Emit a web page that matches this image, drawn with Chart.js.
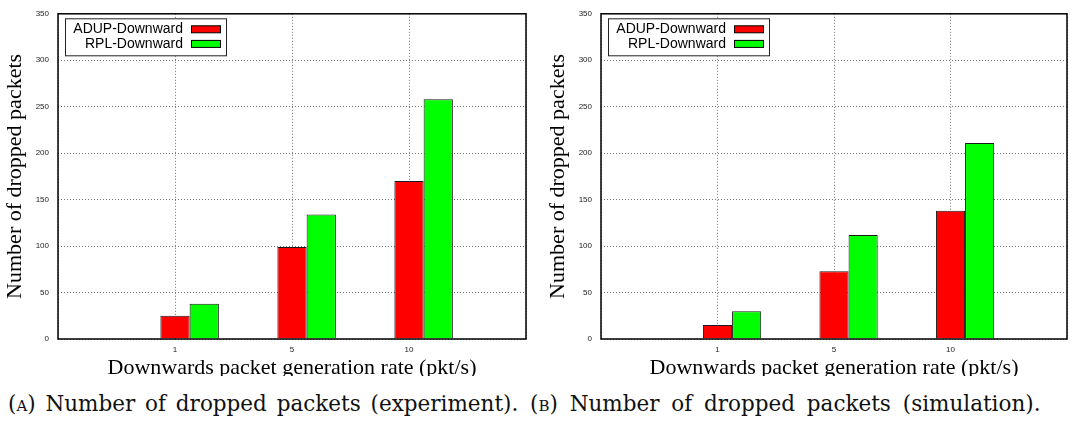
<!DOCTYPE html>
<html>
<head>
<meta charset="utf-8">
<script src="https://cdn.jsdelivr.net/npm/chart.js@4.4.1/dist/chart.umd.min.js"></script>
<style>
    html, body { margin: 0; padding: 0; background: #fff; }
    body { width: 1073px; height: 423px; position: relative; overflow: hidden; }
    .panel { position: absolute; top: 0; height: 376px; overflow: hidden; }
    .caption {
        position: absolute; top: 393px; white-space: nowrap;
        font-family: "DejaVu Serif", serif; font-size: 21.5px; line-height: 1; color: #111;
    }
    .sc { font-variant: small-caps; }
</style>
</head>
<body>
<div class="panel" style="left:0;width:543px"><canvas id="chartExp" width="543" height="385"></canvas></div>
<div class="panel" style="left:543px;width:530px"><canvas id="chartSim" width="530" height="385"></canvas></div>
<div class="caption" style="left:8px;word-spacing:3px">(<span class="sc">a</span>) Number of dropped packets (experiment).</div>
<div class="caption" style="left:530px;word-spacing:5px">(<span class="sc">b</span>) Number of dropped packets (simulation).</div>
<script>
// du lieu doc tu hinh
const rates = ['1', '5', '10'];
const adupExperiment = [25, 99, 170];
const rplExperiment = [38, 134, 258];
const adupSimulation = [15, 73, 138];
const rplSimulation = [30, 112, 211];
const yTicks = [0, 50, 100, 150, 200, 250, 300, 350];

const seriesNames = ['ADUP-Downward', 'RPL-Downward'];
const seriesColors = ['#ff0000', '#00ff00'];

// khung vien + chu thich kieu gnuplot
const gnuplotFrame = {
    id: 'gnuplotFrame',
    afterDatasetsDraw(chart) {
        const { ctx, chartArea: a } = chart;
        ctx.save();
        ctx.strokeStyle = '#000';
        ctx.lineWidth = 1.5;
        ctx.strokeRect(a.left, a.top, a.right - a.left, a.bottom - a.top);

        const bx = a.left + 7, by = a.top + 4.5;
        ctx.fillStyle = '#fff';
        ctx.fillRect(bx, by, 161, 37);
        ctx.lineWidth = 1;
        ctx.strokeStyle = '#222';
        ctx.strokeRect(bx + 0.5, by + 0.5, 161, 37);

        ctx.font = '14px "Liberation Sans", Arial, sans-serif';
        ctx.textAlign = 'right';
        ctx.textBaseline = 'middle';
        chart.data.datasets.forEach((ds, i) => {
            const cy = by + 11 + i * 14.6;
            ctx.fillStyle = '#000';
            ctx.fillText(ds.label, bx + 118, cy);
            ctx.fillStyle = ds.backgroundColor;
            ctx.fillRect(bx + 126, cy - 3.5, 30, 7);
            ctx.strokeStyle = '#000';
            ctx.strokeRect(bx + 126.5, cy - 3.5, 29, 7);
        });
        ctx.restore();
    }
};

const makeChart = (canvasId, adup, rpl, padRight) => {
    const toPoints = (arr) => arr.map((v, i) => ({ x: i + 1, y: v }));
    const config = {
        type: 'bar',
        data: {
            datasets: [adup, rpl].map((arr, i) => ({
                label: seriesNames[i],
                data: toPoints(arr),
                backgroundColor: seriesColors[i],
                borderColor: '#1a1a1a',
                borderWidth: 1,
                xAxisID: 'xb',
                yAxisID: 'y',
                categoryPercentage: 0.5,
                barPercentage: 1.0
            }))
        },
        options: {
            responsive: false,
            animation: false,
            devicePixelRatio: 1,
            layout: { padding: { left: 0, right: padRight, top: 10, bottom: 0 } },
            plugins: { legend: { display: false }, tooltip: { enabled: false } },
            scales: {
                x: {
                    type: 'linear',
                    position: 'bottom',
                    offset: false,
                    min: 0,
                    max: rates.length + 1,
                    afterFit: (scale) => { scale.height = 46; },
                    ticks: {
                        stepSize: 1,
                        padding: 6,
                        color: '#222',
                        font: { family: '"Liberation Sans", Arial, sans-serif', size: 8 },
                        callback: (v) => rates[v - 1] ?? ''
                    },
                    grid: { offset: false, drawTicks: false, color: 'rgba(0,0,0,0.55)', lineWidth: 1 },
                    border: { display: false, dash: [1, 2] },
                    title: {
                        display: true,
                        text: 'Downwards packet generation rate (pkt/s)',
                        color: '#000',
                        padding: { top: 0, bottom: 4 },
                        font: { family: '"Liberation Serif", "Times New Roman", serif', size: 22 }
                    }
                },
                xb: {
                    type: 'linear',
                    display: false,
                    offset: false,
                    min: -0.125,
                    max: rates.length + 0.875,
                    ticks: { stepSize: 1, includeBounds: false }
                },
                y: {
                    min: 0,
                    max: 350,
                    afterFit: (scale) => { scale.width = 58; },
                    afterBuildTicks: (scale) => { scale.ticks = yTicks.map(v => ({ value: v })); },
                    ticks: {
                        padding: 9,
                        color: '#222',
                        font: { family: '"Liberation Sans", Arial, sans-serif', size: 8 }
                    },
                    grid: { drawTicks: false, color: 'rgba(0,0,0,0.55)', lineWidth: 1 },
                    border: { display: false, dash: [1, 2] },
                    title: {
                        display: true,
                        text: 'Number of dropped packets',
                        color: '#000',
                        padding: { top: 2, bottom: 0 },
                        font: { family: '"Liberation Serif", "Times New Roman", serif', size: 22 }
                    }
                }
            }
        },
        plugins: [gnuplotFrame]
    };
    return new Chart(document.getElementById(canvasId), config);
};

makeChart('chartExp', adupExperiment, rplExperiment, 17);
makeChart('chartSim', adupSimulation, rplSimulation, 4);
</script>
</body>
</html>
